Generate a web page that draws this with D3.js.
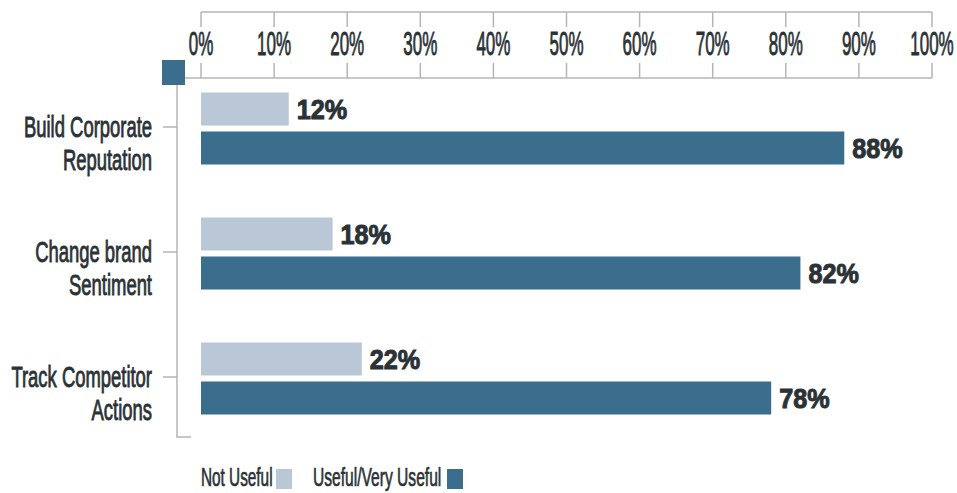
<!DOCTYPE html>
<html>
<head>
<meta charset="utf-8">
<script src="https://cdn.jsdelivr.net/npm/d3@7"></script>
<style>
  html, body { margin: 0; padding: 0; background: #ffffff; }
  svg { display: block; }
</style>
</head>
<body>
<svg id="chart" width="957" height="493"></svg>
<script>
// Survey results: usefulness of social listening by goal
const categories = [["Build Corporate", "Reputation"], ["Change brand", "Sentiment"], ["Track Competitor", "Actions"]];
const notUseful = [12, 18, 22];
const useful = [88, 82, 78];
const tickValues = [0, 10, 20, 30, 40, 50, 60, 70, 80, 90, 100];
const legendLabels = ["Not Useful", "Useful/Very Useful"];

const colLight = "#b9c7d6";
const colDark = "#3b6d8d";
const colText = "#2b3236";
const colAxis = "#b5b5b5";
const face = "'Liberation Sans', Arial, sans-serif";

const svg = d3.select("#chart");

const x = d3.scaleLinear().domain([0, 100]).range([201, 932]);
const y = d3.scalePoint().domain(d3.range(categories.length)).range([66, 441]).padding(0.5);

// condensed text helper: horizontally squeezed, lightly stroked for weight
function label(g, tx, ty, text, opts) {
  return g.append("text")
    .attr("transform", `translate(${tx},${ty}) scale(${opts.sx},1)`)
    .attr("text-anchor", opts.anchor || "start")
    .attr("font-family", face)
    .attr("font-size", opts.size)
    .attr("font-weight", opts.weight || "normal")
    .attr("fill", colText)
    .attr("stroke", colText)
    .attr("stroke-width", opts.stroke || 0.9)
    .text(text);
}

// top scale: two rules with tick stubs and percent labels between them
const scaleG = svg.append("g");
scaleG.append("line").attr("x1", x(0)).attr("x2", x(100)).attr("y1", 12).attr("y2", 12)
  .attr("stroke", colAxis).attr("stroke-width", 1.5);
scaleG.append("line").attr("x1", 177).attr("x2", x(100)).attr("y1", 78).attr("y2", 78)
  .attr("stroke", colAxis).attr("stroke-width", 1.5);
tickValues.forEach(t => {
  scaleG.append("line").attr("x1", x(t)).attr("x2", x(t)).attr("y1", 12).attr("y2", 27)
    .attr("stroke", colAxis).attr("stroke-width", 1.5);
  scaleG.append("line").attr("x1", x(t)).attr("x2", x(t)).attr("y1", 63).attr("y2", 78)
    .attr("stroke", colAxis).attr("stroke-width", 1.5);
  label(scaleG, x(t), 55, t + "%", { sx: 0.5, size: 34, anchor: "middle" });
});

// left category axis
const catG = svg.append("g");
catG.append("line").attr("x1", 177).attr("x2", 177).attr("y1", 78).attr("y2", 437)
  .attr("stroke", colAxis).attr("stroke-width", 1.5);
catG.append("line").attr("x1", 176.25).attr("x2", 191).attr("y1", 437).attr("y2", 437)
  .attr("stroke", colAxis).attr("stroke-width", 1.5);
categories.forEach((c, i) => {
  const cy = y(i);
  catG.append("line").attr("x1", 163).attr("x2", 177).attr("y1", cy - 1.5).attr("y2", cy - 1.5)
    .attr("stroke", colAxis).attr("stroke-width", 1.5);
  label(catG, 152, cy + 8.5, c[0], { sx: 0.625, size: 29.5, anchor: "end" });
  label(catG, 152, cy + 41.5, c[1], { sx: 0.625, size: 29.5, anchor: "end" });
});

// corner marker
svg.append("rect").attr("x", 162).attr("y", 60).attr("width", 23).attr("height", 25).attr("fill", colDark);

// bars
const barsG = svg.append("g");
const barH = 33;
categories.forEach((c, i) => {
  const cy = y(i);
  barsG.append("rect").attr("x", x(0)).attr("y", cy - 36).attr("width", x(notUseful[i]) - x(0))
    .attr("height", barH).attr("fill", colLight);
  barsG.append("rect").attr("x", x(0)).attr("y", cy + 3).attr("width", x(useful[i]) - x(0))
    .attr("height", barH).attr("fill", colDark);
  const bold = { sx: 0.9, size: 28, weight: "bold", stroke: 1 };
  label(barsG, x(notUseful[i]) + 8, cy - 9.5, notUseful[i] + "%", bold);
  label(barsG, x(useful[i]) + 8, cy + 29.5, useful[i] + "%", bold);
});

// legend
const legendG = svg.append("g");
label(legendG, 201, 486, legendLabels[0], { sx: 0.59, size: 26, stroke: 0.7 });
legendG.append("rect").attr("x", 276).attr("y", 469).attr("width", 16).attr("height", 20).attr("fill", colLight);
label(legendG, 313, 486, legendLabels[1], { sx: 0.6, size: 26, stroke: 0.7 });
legendG.append("rect").attr("x", 447).attr("y", 469).attr("width", 16).attr("height", 20).attr("fill", colDark);
</script>
</body>
</html>
